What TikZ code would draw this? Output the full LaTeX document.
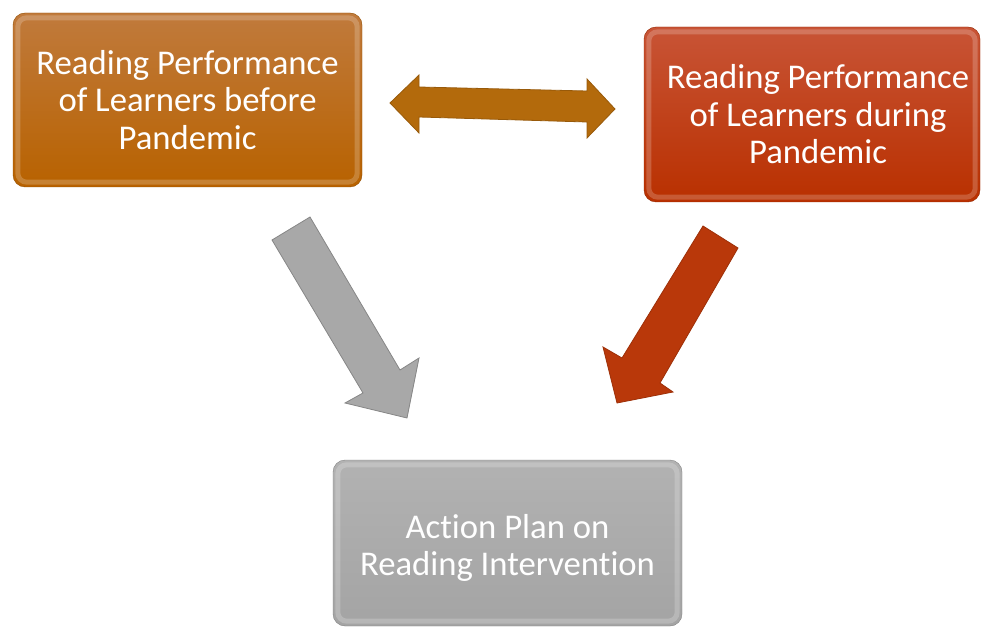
\documentclass[tikz,border=0pt]{standalone}
\usepackage{fontspec}
\setmainfont{Carlito}[Ligatures=NoCommon]
\definecolor{bronzeTop}{HTML}{C07A3C}
\definecolor{bronzeBot}{HTML}{B86200}
\definecolor{rustTop}{HTML}{C85436}
\definecolor{rustBot}{HTML}{B93000}
\definecolor{ashTop}{HTML}{B2B2B2}
\definecolor{ashBot}{HTML}{A4A4A4}
\definecolor{bronzeArrow}{HTML}{B36A0C}
\definecolor{rustArrow}{HTML}{B9380A}
\definecolor{ashArrow}{HTML}{A8A8A8}
\begin{document}
\begin{tikzpicture}[x=1pt,y=-1pt,
  panel/.style={rounded corners=12pt, inner sep=0pt},
  caption/.style={align=center, text=white, font=\fontsize{34.7}{37.5}\selectfont, inner sep=0pt},
  bevel/.style={draw=white, draw opacity=.2, line width=5pt, rounded corners=9pt},
  blockarrow/.style={line width=.8pt, line join=miter}]
\useasboundingbox (0,0) rectangle (982,628);

% the three panels
\node[panel, top color=bronzeTop, bottom color=bronzeBot, draw=bronzeBot!80!black,
      minimum width=349pt, minimum height=174pt] (before) at (187.5,100) {};
\node[panel, top color=rustTop, bottom color=rustBot, draw=rustBot!80!black,
      minimum width=336pt, minimum height=175pt] (during) at (812,114.5) {};
\node[panel, top color=ashTop, bottom color=ashBot, draw=ashBot!80!black,
      minimum width=349pt, minimum height=166pt] (plan) at (507.5,543) {};

% soft bevel highlight inside each panel
\foreach \p in {before,during,plan}{
  \draw[bevel] ([shift={(5,5)}]\p.north west) rectangle ([shift={(-5,-5)}]\p.south east);
}

% panel texts
\node[caption] (beforeText) at (before.center) {Reading Performance\\of Learners before\\Pandemic};
\node[caption] (duringText) at ([xshift=6pt]during.center) {Reading Performance\\of Learners during\\Pandemic};
\node[caption] (planText) at ([yshift=-5pt]plan.center) {Action Plan on\\Reading Intervention};

% two-headed arrow between the upper panels
\fill[bronzeArrow, draw=bronzeArrow!85!black, blockarrow]
  (390,103) -- (419,75) -- (419,87) -- (587,91) -- (587,79) -- (615,109)
  -- (587,138) -- (587,122) -- (419,117) -- (419,133) -- cycle;

% arrow from the left panel down to the action plan
\fill[ashArrow, draw=ashArrow!80!black, blockarrow]
  (310,217) -- (400,370) -- (419,358) -- (407,418) -- (345,403)
  -- (363,393) -- (272,240) -- cycle;

% arrow from the right panel down to the action plan
\fill[rustArrow, draw=rustArrow!85!black, blockarrow]
  (703,226) -- (738,248) -- (660,383) -- (673,392) -- (617,403)
  -- (603,347) -- (622,358) -- cycle;
\end{tikzpicture}
\end{document}
